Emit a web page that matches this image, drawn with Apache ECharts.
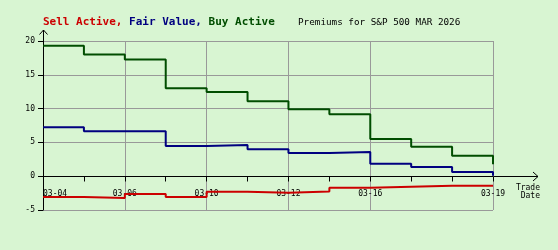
<!DOCTYPE html>
<html>
<head>
<meta charset="utf-8">
<script src="https://cdn.jsdelivr.net/npm/echarts@6/dist/echarts.min.js"></script>
<style>
html,body{margin:0;padding:0;background:#d8f5d2;}
#c{width:558px;height:250px;}
</style>
</head>
<body>
<div id="c"></div>
<script>
var dates = ['03-04','03-05','03-06','03-09','03-10','03-11','03-12','03-13','03-16','03-17','03-18','03-19'];
var sellActive = [-3.09,-3.24,-2.65,-3.09,-2.3,-2.45,-2.25,-1.72,-1.57,-1.42,-1.42,-1.42];
var fairValue = [7.25,6.66,6.66,4.46,4.6,3.97,3.43,3.57,1.86,1.37,0.63,0.05];
var buyActive = [19.3,18.0,17.25,13.0,12.45,11.1,9.9,9.16,5.5,4.35,3.02,1.76];
var yTicks = [-5,0,5,10,15,20];
var labelIdx = [0,2,4,6,8,11];

var mono = 'DejaVu Sans Mono';
var chart = echarts.init(document.getElementById('c'));
function ser(name, data, color){
  return {name:name, type:'line', step:'end', data:data, symbol:'none',
    lineStyle:{color:color, width:2}, itemStyle:{color:color}, animation:false};
}
chart.setOption({
  backgroundColor:'#d8f5d2',
  animation:false,
  title:[{
    left:43, top:17, padding:0,
    text:'{r|Sell Active,} {b|Fair Value,} {g|Buy Active}',
    textStyle:{fontFamily:mono, fontSize:11, fontWeight:'bold',
      rich:{r:{color:'#cc0000',fontFamily:mono,fontSize:11,fontWeight:'bold'},
            b:{color:'#000080',fontFamily:mono,fontSize:11,fontWeight:'bold'},
            g:{color:'#004d00',fontFamily:mono,fontSize:11,fontWeight:'bold'}}}
  },{
    left:298, top:18, padding:0,
    text:'Premiums for S&P 500 MAR 2026',
    textStyle:{fontFamily:mono, fontSize:9.3, fontWeight:'normal', color:'#000'}
  }],
  grid:{left:43, right:65, top:41, bottom:40},
  xAxis:{
    type:'category', data:dates, boundaryGap:false, offset:-33.5,
    name:'Trade\nDate', nameLocation:'end', nameGap:47,
    nameTextStyle:{fontFamily:mono, fontSize:8, color:'#000', align:'right', verticalAlign:'top', lineHeight:8, padding:[7,0,0,0]},
    axisLine:{onZero:false, lineStyle:{color:'#000', width:1}},
    axisTick:{show:true, interval:0, length:5, lineStyle:{color:'#000'}},
    axisLabel:{interval:function(i){return labelIdx.indexOf(i)>=0;}, margin:13,
      fontFamily:mono, fontSize:8, color:'#000', alignMinLabel:'left'},
    splitLine:{show:true, interval:function(i){return i>0 && labelIdx.indexOf(i)>=0;}, lineStyle:{color:'#999', width:1}}
  },
  yAxis:{
    type:'value', min:yTicks[0], max:yTicks[yTicks.length-1], interval:5,
    axisLine:{show:true, lineStyle:{color:'#000', width:1}},
    axisTick:{show:true, length:5, lineStyle:{color:'#000'}},
    axisLabel:{fontFamily:mono, fontSize:8, color:'#000', margin:8},
    splitLine:{show:true, lineStyle:{color:'#999', width:1}}
  },
  graphic:[
    {type:'polyline', silent:true, shape:{points:[[493,176.5],[538,176.5]]}, style:{stroke:'#000', lineWidth:1, fill:null}},
    {type:'polyline', silent:true, shape:{points:[[533,172],[538,176.5],[533,181]]}, style:{stroke:'#000', lineWidth:1, fill:null}},
    {type:'polyline', silent:true, shape:{points:[[43.5,41],[43.5,30]]}, style:{stroke:'#000', lineWidth:1, fill:null}},
    {type:'polyline', silent:true, shape:{points:[[39.5,34.5],[43.5,30],[47.5,34.5]]}, style:{stroke:'#000', lineWidth:1, fill:null}}
  ],
  series:[ser('Sell Active', sellActive, '#cc0000'), ser('Fair Value', fairValue, '#000080'), ser('Buy Active', buyActive, '#004d00')]
});
</script>
</body>
</html>
